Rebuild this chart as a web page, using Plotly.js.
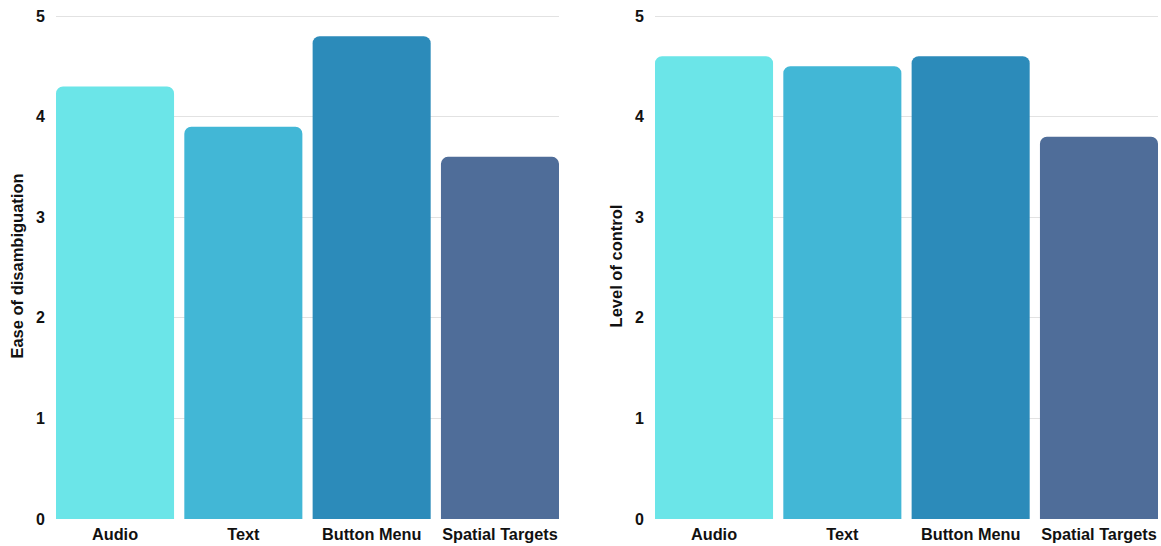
<!DOCTYPE html>
<html><head><meta charset="utf-8">
<script src="https://cdn.plot.ly/plotly-3.0.1.min.js"></script>
<style>html,body{margin:0;padding:0;background:#fff}#c{width:1161px;height:546px}</style>
</head><body><div id="c"></div>
<script>
const categories = ["Audio", "Text", "Button Menu", "Spatial Targets"];
const easeValues = [4.3, 3.9, 4.8, 3.6];
const controlValues = [4.6, 4.5, 4.6, 3.8];
const barColors = ["#6be5e8", "#42b7d6", "#2c8bba", "#4f6d99"];
const yTicks = [0, 1, 2, 3, 4, 5];
const leftTitle = "Ease of disambiguation";
const rightTitle = "Level of control";

const fam = "Liberation Sans, Arial, sans-serif";
function bar(y, xa, ya) {
  return {type: "bar", x: categories, y: y, xaxis: xa, yaxis: ya,
    marker: {color: barColors, cornerradius: 7, line: {width: 0}},
    hoverinfo: "skip", showlegend: false};
}
function yax(title, anchor) {
  return {range: [0, 5.03], tickvals: yTicks, ticktext: yTicks.map(String), showgrid: true, gridcolor: "#e2e2e2",
    gridwidth: 1, zeroline: false, showline: false, ticks: "", ticklabelstandoff: 10,
    tickfont: {family: fam, size: 16, color: "#111", weight: 700},
    title: {text: title, font: {family: fam, size: 16.5, color: "#111", weight: 700}, standoff: 8},
    anchor: anchor, automargin: false, fixedrange: true};
}
function xax(domain, anchor) {
  return {domain: domain, range: [-0.46, 3.46], showgrid: false, zeroline: false, showline: false, ticks: "",
    tickfont: {family: fam, size: 16.3, color: "#111", weight: 700}, ticklabelstandoff: 4,
    anchor: anchor, automargin: false, fixedrange: true};
}
const layout = {
  width: 1161, height: 546,
  margin: {l: 0, r: 0, t: 13, b: 27},
  paper_bgcolor: "#fff", plot_bgcolor: "#fff",
  bargap: 0.08,
  xaxis: xax([56/1161, 559/1161], "y"),
  yaxis: yax(leftTitle, "x"),
  xaxis2: xax([655/1161, 1158/1161], "y2"),
  yaxis2: yax(rightTitle, "x2"),
  font: {family: fam}
};
Plotly.newPlot("c", [bar(easeValues, "x", "y"), bar(controlValues, "x2", "y2")], layout, {displayModeBar: false, staticPlot: true});
</script></body></html>
